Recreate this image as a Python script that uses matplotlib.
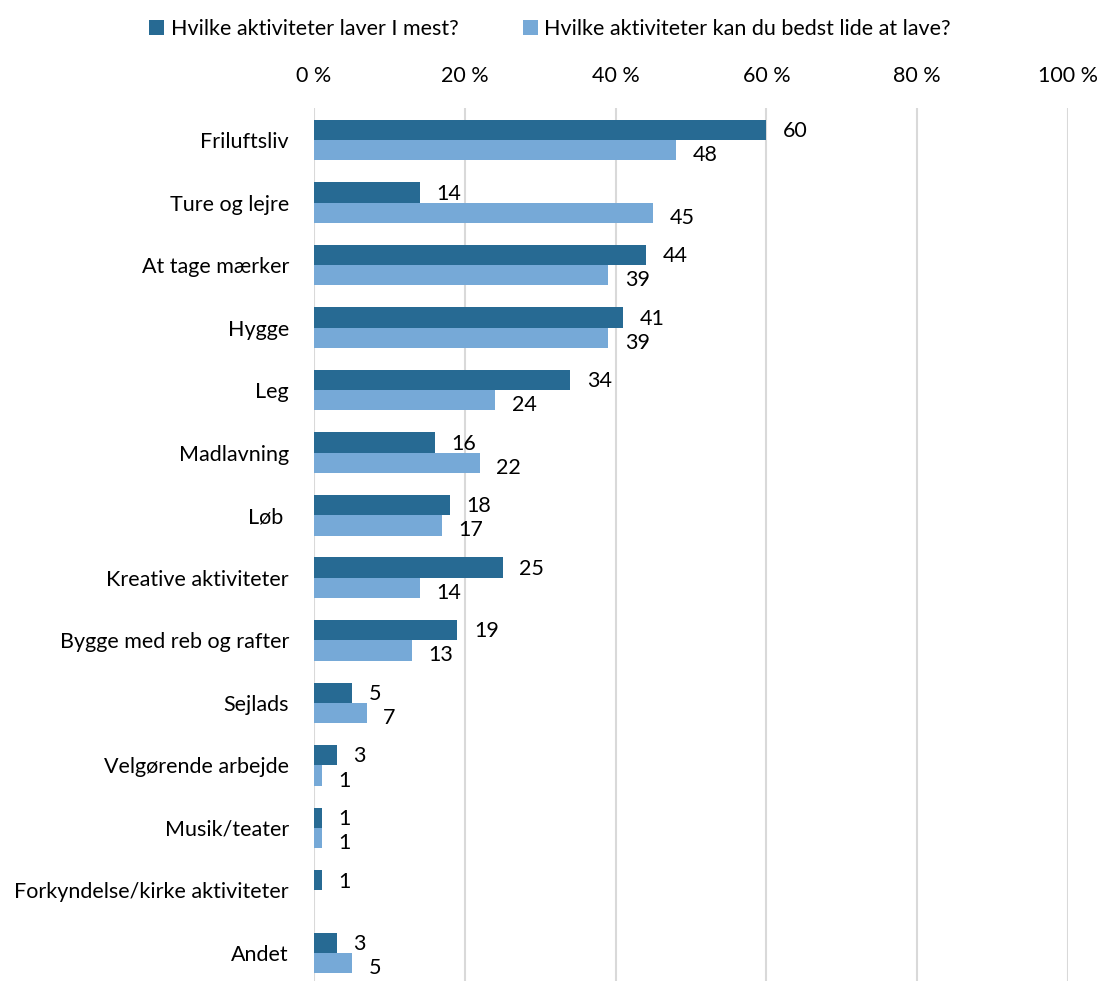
import matplotlib
matplotlib.use("Agg")
import matplotlib.pyplot as plt
import numpy as np

categories = ["Friluftsliv", "Ture og lejre", "At tage mærker", "Hygge", "Leg",
              "Madlavning", "Løb ", "Kreative aktiviteter", "Bygge med reb og rafter",
              "Sejlads", "Velgørende arbejde", "Musik/teater",
              "Forkyndelse/kirke aktiviteter", "Andet"]
mest = [60, 14, 44, 41, 34, 16, 18, 25, 19, 5, 3, 1, 1, 3]
bedst = [48, 45, 39, 39, 24, 22, 17, 14, 13, 7, 1, 1, 0, 5]
series_names = ["Hvilke aktiviteter laver I mest?", "Hvilke aktiviteter kan du bedst lide at lave?"]
xticks = [0, 20, 40, 60, 80, 100]
xtick_labels = ["0 %", "20 %", "40 %", "60 %", "80 %", "100 %"]

plt.rcParams['font.family'] = ['Lato', 'DejaVu Sans']
dark = "#276A93"
light = "#76A9D7"

fig = plt.figure(figsize=(11, 9.81), dpi=100)
ax = fig.add_axes([314/1100, 0, (1068-314)/1100, 1-108/981])

y = np.arange(len(categories))
h = 0.325
ax.barh(y - h/2, mest, height=h, color=dark, label=series_names[0], zorder=3)
ax.barh(y + h/2, bedst, height=h, color=light, label=series_names[1], zorder=3)

fs = 15.5
for i, (a, b) in enumerate(zip(mest, bedst)):
    if a > 0:
        ax.text(a + 2.2, i - h/2 + 0.02, str(a), va="center", ha="left", fontsize=fs, color="black")
    if b > 0:
        ax.text(b + 2.2, i + h/2 + 0.08, str(b), va="center", ha="left", fontsize=fs, color="black")

ax.set_xlim(0, 100)
ax.set_ylim(13 + 28/62.54, -32/62.54)
ax.set_xticks(xticks)
ax.set_xticklabels(xtick_labels, fontsize=fs)
ax.xaxis.tick_top()
ax.tick_params(axis="x", length=0, pad=16)
ax.set_yticks(y)
ax.set_yticklabels(categories, fontsize=fs)
ax.tick_params(axis="y", length=0, pad=18)
ax.grid(axis="x", color="#D9D9D9", linewidth=1.5, zorder=0)
for s in ax.spines.values():
    s.set_visible(False)

fig.legend(loc="upper center", bbox_to_anchor=(0.5, 1.0), ncol=2, frameon=False,
           fontsize=fs, handlelength=0.7, handleheight=0.7, handletextpad=0.3,
           columnspacing=3.0)

fig.savefig("out.png", dpi=100)
